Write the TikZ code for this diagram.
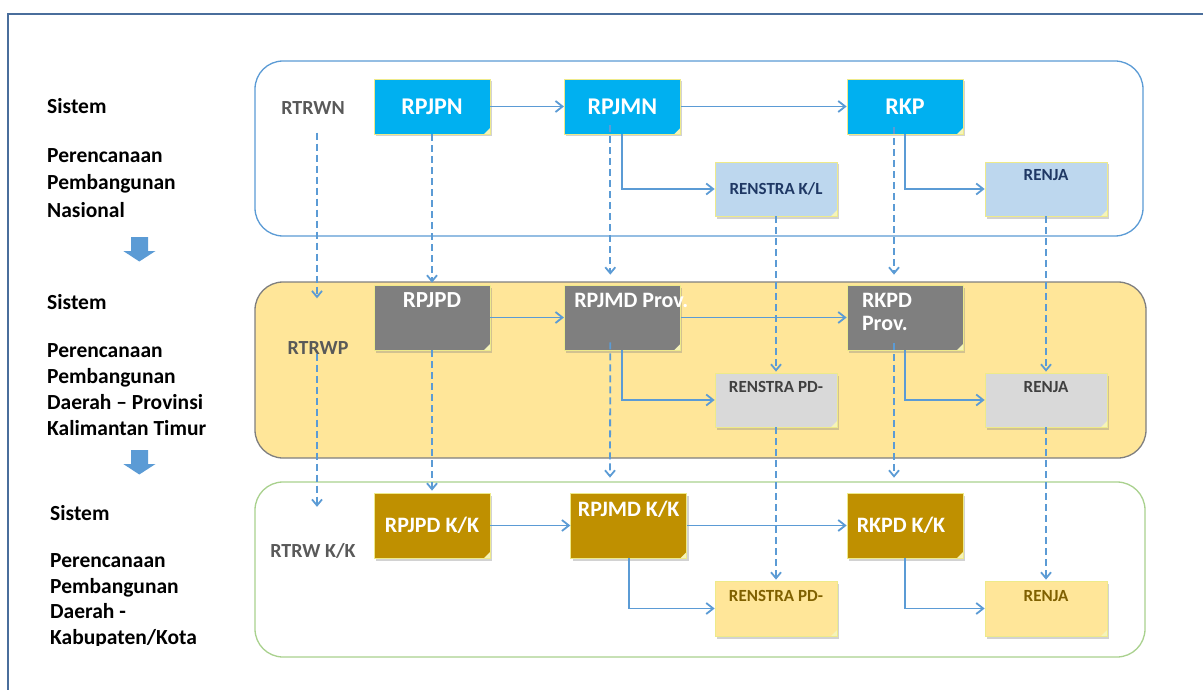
\documentclass[tikz,border=0pt]{standalone}
\usepackage{fontspec}
\setmainfont{Carlito}
\usetikzlibrary{arrows.meta,calc,shadows}

\definecolor{lineblue}{HTML}{5B9BD5}
\definecolor{framecol}{HTML}{4A6E9C}
\definecolor{noteedge}{HTML}{EEEA8A}
\definecolor{cyanbox}{HTML}{00B0F0}
\definecolor{bluenote}{HTML}{BDD7EE}
\definecolor{navytext}{HTML}{1F3864}
\definecolor{greybox}{HTML}{7F7F7F}
\definecolor{greynote}{HTML}{D9D9D9}
\definecolor{darkgrey}{HTML}{404040}
\definecolor{goldbox}{HTML}{BF9000}
\definecolor{palegold}{HTML}{FFE699}
\definecolor{browntext}{HTML}{7F6000}
\definecolor{rtrwtext}{HTML}{595959}
\definecolor{greenedge}{HTML}{A9D18E}

\tikzset{
  note/.style={draw=noteedge, line width=0.7pt, inner sep=0pt,
    drop shadow={shadow xshift=2pt, shadow yshift=-2.5pt, opacity=0.35},
    path picture={\fill[noteedge!60!white]
      ([xshift=-6pt]path picture bounding box.south east) --
      ([yshift=6pt]path picture bounding box.south east) --
      (path picture bounding box.south east) -- cycle;}},
  bignote/.style={note, minimum width=116pt, minimum height=#1, text=white,
    font=\bfseries\fontsize{22}{23}\selectfont},
  topnote/.style={bignote=55pt, fill=cyanbox, font=\bfseries\fontsize{24}{25}\selectfont},
  smallnote/.style={note, minimum width=122pt, minimum height=54pt,
    font=\bfseries\fontsize{17}{20}\selectfont},
  flow/.style={draw=lineblue, line width=1.8pt, -{Straight Barb[length=7pt,width=11pt]}},
  down/.style={draw=lineblue, line width=1.8pt, dash pattern=on 7pt off 4pt,
    -{Straight Barb[length=6pt,width=10pt]}},
  rtrw/.style={inner sep=0pt, text=rtrwtext, font=\bfseries\fontsize{20}{24}\selectfont},
  side/.style={inner sep=0pt, align=left, font=\bfseries\fontsize{21.5}{27.5}\selectfont},
  band/.style={line width=1.3pt, rounded corners=28pt}
}

\begin{document}
\begin{tikzpicture}[x=1pt,y=-1pt]
\useasboundingbox (0,0) rectangle (1203,690);

% outer frame
\draw[framecol, line width=2.5pt] (8,690) -- (8,14) -- (1203,14);

% three planning levels
\draw[band, draw=lineblue, fill=white] (255,61) rectangle (1143,236);
\draw[band, draw=greybox, fill=palegold] (255,282) rectangle (1146,458);
\draw[band, draw=greenedge, fill=white] (255,482) rectangle (1145,657);

% left column
\node[side, anchor=base west] (sis1) at (47,113.6) {Sistem};
\node[side, anchor=north west] (txt1) at (47,148.2) {Perencanaan\\Pembangunan\\Nasional};
\node[side, anchor=base west] (sis2) at (47,309.6) {Sistem};
\node[side, anchor=north west, font=\bfseries\fontsize{21.5}{26}\selectfont] (txt2) at (47,343.2)
  {Perencanaan\\Pembangunan\\Daerah – Provinsi\\Kalimantan Timur};
\node[side, anchor=base west] (sis3) at (50,520.6) {Sistem};
\begin{scope}
  \clip (0,0) rectangle (250,645);
  \node[side, anchor=north west, font=\bfseries\fontsize{21.5}{25.8}\selectfont] (txt3) at (50,553.2)
    {Perencanaan\\Pembangunan\\Daerah -\\Kabupaten/Kota};
\end{scope}

\fill[lineblue] (131,237) -- (148,237) -- (148,251) -- (155.5,251) -- (139.3,261.5)
  -- (123.3,251) -- (131,251) -- cycle;
\fill[lineblue] (131,450) -- (148,450) -- (148,464) -- (155.5,464) -- (139.3,474.5)
  -- (123.3,464) -- (131,464) -- cycle;

% spatial plans
\node[rtrw] (rtrwn) at (313,108) {RTRWN};
\node[rtrw] (rtrwp) at (318,348) {RTRWP};
\node[rtrw] (rtrwk) at (313,551) {RTRW K/K};

% national
\node[topnote] (rpjpn) at (432,106.5) {RPJPN};
\node[topnote] (rpjmn) at (622.3,106.5) {RPJMN};
\node[topnote] (rkp) at (905,106.5) {RKP};
\node[smallnote, fill=bluenote, text=navytext] (renstrakl) at (776,189) {RENSTRA K/L};
\node[smallnote, fill=bluenote, text=navytext, text height=19pt, text depth=35pt] (renjan) at (1046,189) {RENJA};

% province
\node[bignote=65pt, fill=greybox, text height=22.5pt, text depth=42.5pt,
  font=\bfseries\fontsize{23}{24}\selectfont] (rpjpd) at (432,317.5) {RPJPD};
\node[bignote=65pt, fill=greybox, text height=22pt, text depth=43pt] (rpjmdp) at (622.3,317.5)
  {\makebox[0pt][l]{\hspace*{-48pt}RPJMD Prov.}};
\node[bignote=65pt, fill=greybox, text width=86pt, align=left, text height=22pt, text depth=43pt]
  (rkpdp) at (905,317.5) {RKPD\\Prov.};
\node[smallnote, fill=greynote, text=darkgrey, text height=19pt, text depth=35pt] (renstrap) at (776,400) {RENSTRA PD-};
\node[smallnote, fill=greynote, text=darkgrey, text height=19pt, text depth=35pt] (renjap) at (1046,400) {RENJA};

% regency / city
\node[bignote=65pt, fill=goldbox] (rpjpdk) at (432,525.5) {RPJPD K/K};
\node[bignote=65pt, fill=goldbox, text height=23pt, text depth=42pt] (rpjmdk) at (628.7,525.5) {RPJMD K/K};
\node[bignote=65pt, fill=goldbox] (rkpdk) at (905,525.5) {\hspace*{-8pt}RKPD K/K};
\node[smallnote, fill=palegold, text=browntext, minimum height=55pt, text height=20pt, text depth=35pt]
  (renstrak) at (776,608.5) {RENSTRA PD-};
\node[smallnote, fill=palegold, text=browntext, minimum height=55pt, text height=20pt, text depth=35pt]
  (renjak) at (1046,608.5) {RENJA};

% solid links within a level
\draw[flow] (rpjpn) -- (rpjmn);
\draw[flow] (rpjmn) -- (rkp);
\draw[flow] (rpjmn.south) |- (renstrakl.west);
\draw[flow] (rkp.south) |- (renjan.west);

\draw[flow] (rpjpd) -- (rpjmdp);
\draw[flow] (rpjmdp) -- (rkpdp);
\draw[flow] (rpjmdp.south) |- (renstrap.west);
\draw[flow] (rkpdp.south) |- (renjap.west);

\draw[flow] (rpjpdk) -- (rpjmdk);
\draw[flow] (rpjmdk) -- (rkpdk);
\draw[flow] (rpjmdk.south) |- (renstrak.west);
\draw[flow] (rkpdk.south) |- (renjak.west);

% dashed links between levels
\draw[down] ($(rtrwn.south)+(4,18)$) -- ($(rtrwp.north)+(-1,-43)$);
\draw[down] ($(rtrwp.south)+(-1,-1)$) -- ($(rtrwk.north)+(4,-36.5)$);
\draw[down, shorten >=2pt] (rpjpn) -- (rpjpd);
\draw[down, shorten >=2pt] (rpjpd) -- (rpjpdk);
\draw[down] ($(rpjmn.south)+(-12,-9)$) -- ($(rpjmdp.north)+(-12,-10)$);
\draw[down] ($(rpjmdp.south)+(-12,-8)$) -- ($(rpjmdk.north)+(-18.7,-15)$);
\draw[down] ($(rkp.south)+(-11,-7)$) -- ($(rkpdp.north)+(-11,-10)$);
\draw[down] ($(rkpdp.south)+(-11,-7)$) -- ($(rkpdk.north)+(-11,-15)$);
\draw[down, shorten >=1pt] (renstrakl) -- (renstrap);
\draw[down, shorten >=1pt] (renstrap) -- (renstrak);
\draw[down, shorten >=1pt] (renjan) -- (renjap);
\draw[down, shorten >=1pt] (renjap) -- (renjak);
\end{tikzpicture}
\end{document}
